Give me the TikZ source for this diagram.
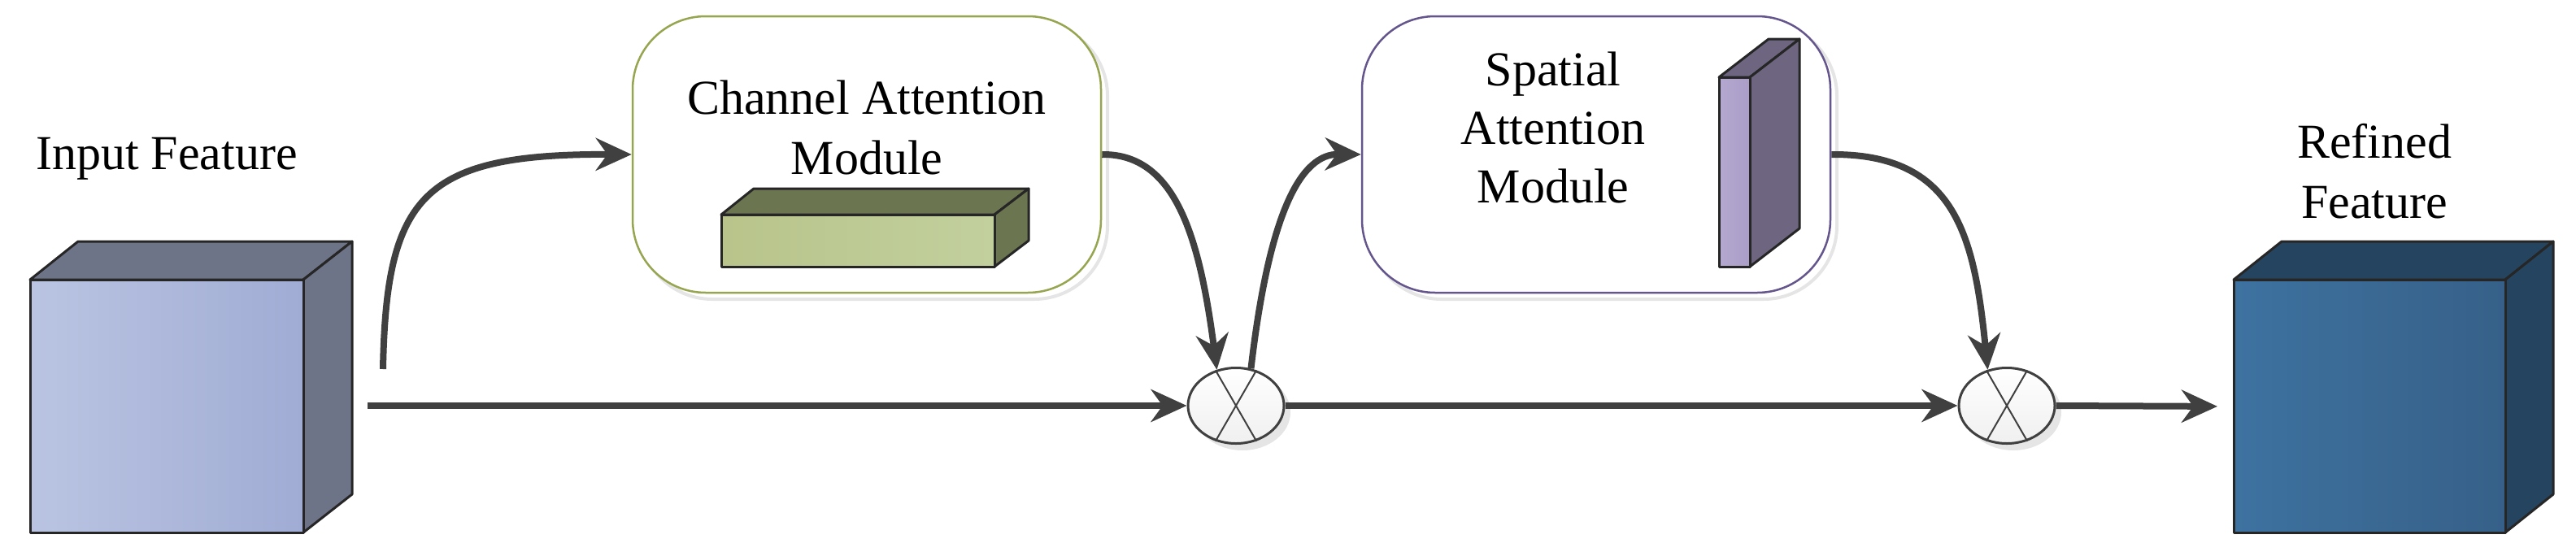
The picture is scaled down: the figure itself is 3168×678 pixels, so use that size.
\documentclass[tikz,border=0pt]{standalone}
\usepackage{fontspec}
\setmainfont{Liberation Serif}
\usetikzlibrary{arrows.meta,shapes.geometric}
\definecolor{ln}{HTML}{404040}
\tikzset{
  conn/.style={draw=ln,line width=8pt,-{Stealth[length=44pt,width=40pt]}},
  lbl/.style={font=\fontsize{60}{66}\selectfont,align=center,inner sep=0pt},
  face/.style={draw=black!85,line width=3pt,line join=round},
  mod/.style={draw,rounded corners=90pt,line width=2.5pt,minimum width=576pt,minimum height=340pt,fill=white},
  modsh/.style={draw=black!10,rounded corners=90pt,line width=4pt,minimum width=576pt,minimum height=340pt},
  mult/.style={ellipse,draw=ln,line width=3pt,minimum width=118pt,minimum height=93pt,inner sep=0pt,top color=white,bottom color=black!6},
}
\begin{document}
\begin{tikzpicture}[x=1pt,y=-1pt]
\useasboundingbox (0,0) rectangle (3168,678);
% input cube
\fill[face,fill={rgb,255:red,110;green,116;blue,136}] (37,344)--(96,297)--(433,297)--(373,344)--cycle;
\fill[face,fill={rgb,255:red,110;green,116;blue,136}] (373,344)--(433,297)--(433,608)--(373,655)--cycle;
\draw[face,left color={rgb,255:red,186;green,196;blue,226},right color={rgb,255:red,160;green,172;blue,212}] (37,344) rectangle (373,655);
\node[inner sep=0pt] (inp) at (205,500) {};
\node[lbl] (inpl) at (205,195) {Input Feature};
% refined cube
\fill[face,fill={rgb,255:red,37;green,68;blue,95}] (2747,344)--(2806,297)--(3140,297)--(3081,344)--cycle;
\fill[face,fill={rgb,255:red,37;green,68;blue,95}] (3081,344)--(3140,297)--(3140,608)--(3081,655)--cycle;
\draw[face,left color={rgb,255:red,62;green,114;blue,160},right color={rgb,255:red,54;green,96;blue,136}] (2747,344) rectangle (3081,655);
\node[inner sep=0pt] (rf) at (2914,500) {};
\node[lbl] (rfl) at (2920,211) {Refined\\[8pt]Feature};
% modules
\node[modsh] at (1074,198) {};
\node[mod,draw={rgb,255:red,150;green,165;blue,80}] (ca) at (1066,190) {};
\node[lbl] (cal) at (1066,157) {Channel Attention\\[8pt]Module};
\fill[face,fill={rgb,255:red,107;green,117;blue,80}] (887,264)--(927,232)--(1265,232)--(1223,264)--cycle;
\fill[face,fill={rgb,255:red,107;green,117;blue,80}] (1223,264)--(1265,232)--(1265,296)--(1223,328)--cycle;
\draw[face,left color={rgb,255:red,184;green,196;blue,138},right color={rgb,255:red,194;green,208;blue,158}] (887,264) rectangle (1223,328);
\node[modsh] at (1971,198) {};
\node[mod,draw={rgb,255:red,100;green,85;blue,140}] (sa) at (1963,190) {};
\node[lbl] (sal) at (1910,157) {Spatial\\[6pt]Attention\\[6pt]Module};
\fill[face,fill={rgb,255:red,110;green,102;blue,128}] (2114,95)--(2175,48)--(2213,48)--(2152,95)--cycle;
\fill[face,fill={rgb,255:red,110;green,102;blue,128}] (2152,95)--(2213,48)--(2213,281)--(2152,328)--cycle;
\draw[face,left color={rgb,255:red,180;green,168;blue,208},right color={rgb,255:red,170;green,158;blue,200}] (2114,95) rectangle (2152,328);
% multipliers
\fill[black!10] (1528,507) ellipse (59 and 47);
\fill[black!10] (2476,507) ellipse (59 and 47);
\node[mult] (c1) at (1520,499) {};
\node[mult] (c2) at (2468,499) {};
\foreach \c in {c1,c2}{
  \draw[ln,line width=2pt] (\c.60)--(\c.240) (\c.120)--(\c.300);
}
% connectors
\coordinate (s0) at (452,499);
\coordinate (s1) at (471,454);
\draw[conn] (s0) -- (c1.west);
\draw[conn] (c1.east) -- (c2.west);
\draw[conn,shorten >=20pt] (c2.east) -- (rf.west -| 2747,0);
\draw[conn] (s1) .. controls (475,240) and (520,189) .. (ca.west);
\draw[conn] (ca.east) .. controls (1445,189) and (1475,290) .. (c1.118);
\draw[conn] (c1.68) .. controls (1561,260) and (1600,189) .. (sa.west);
\draw[conn] (sa.east) .. controls (2405,189) and (2428,290) .. (c2.118);
\end{tikzpicture}
\end{document}
